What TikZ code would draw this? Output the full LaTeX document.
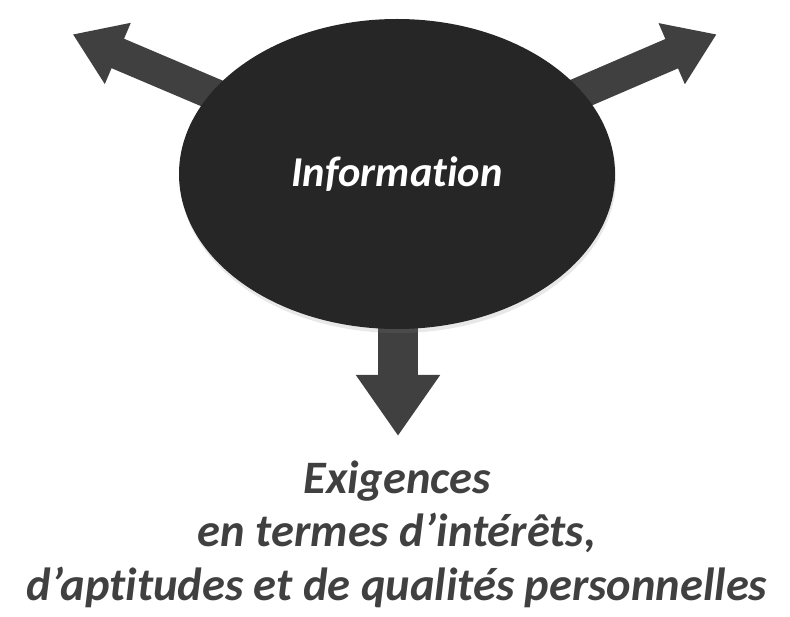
\documentclass[tikz,border=0pt]{standalone}
\usepackage{fontspec}
\setmainfont{Carlito}[Ligatures=CommonOff]
\usetikzlibrary{arrows.meta,shapes.geometric,shadows}
\definecolor{hubgray}{HTML}{262626}
\definecolor{arrowgray}{HTML}{404040}

\begin{document}
\begin{tikzpicture}[x=1pt,y=-1pt,
    sidearrow/.style={draw=arrowgray, line width=32pt,
      -{Triangle[length=49pt,width=63pt]}},
    downarrow/.style={draw=arrowgray, line width=40pt,
      -{Triangle[length=61pt,width=80pt]}},
    hub/.style={ellipse, fill=hubgray, minimum width=436pt, minimum height=310pt,
      inner sep=0pt, text=white,
      drop shadow={opacity=0.18, shadow xshift=1pt, shadow yshift=-4pt}}]
\useasboundingbox (0,0) rectangle (790,617);

	% Arrow ends
	\coordinate (centre) at (397,172);
	\coordinate (tipleft) at (72.7,34.3);
	\coordinate (tipright) at (716.7,34.3);
	\coordinate (tipdown) at (398,436);

	% Arrows (behind the ellipse)
	\draw[sidearrow] (centre) -- (tipleft);
	\draw[sidearrow] (centre) -- (tipright);
	\draw[downarrow] (tipdown |- centre) -- (tipdown);

	% Ellipse
	\node[hub, font=\bfseries\itshape\fontsize{42.5}{46}\selectfont] (info) at ([yshift=-2pt]centre) {Information};

	% Text below
	\node[anchor=base, align=center, text=arrowgray,
	  font=\bfseries\itshape\fontsize{46.5}{53.5}\selectfont] (demands) at (397,600)
	  {Exigences\\en termes d’intérêts,\\d’aptitudes et de qualités personnelles};

\end{tikzpicture}
\end{document}
